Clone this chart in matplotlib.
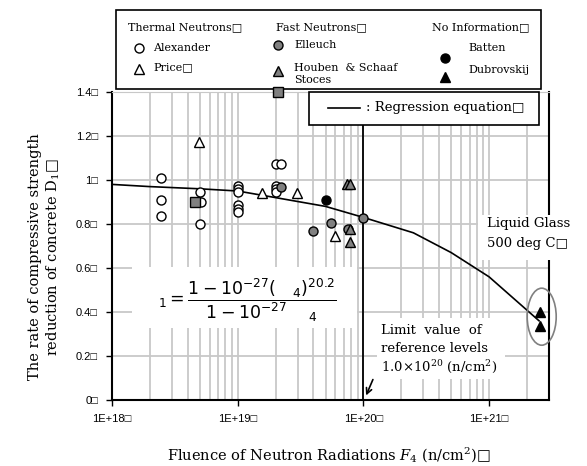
import matplotlib
matplotlib.use('Agg')
import matplotlib.pyplot as plt
from matplotlib.patches import Rectangle, Ellipse
from matplotlib.ticker import LogLocator, NullFormatter

plt.rcParams['font.family'] = ['DejaVu Serif', 'DejaVu Sans']
plt.rcParams['mathtext.fontset'] = 'dejavuserif'

# 資料
alex_x = [2.45e18, 2.45e18, 2.45e18, 5e18, 5.1e18, 5e18,
          1e19, 1e19, 1e19, 1e19, 1e19, 1e19,
          2e19, 2.2e19, 2e19, 2e19, 2e19]
alex_y = [1.01, 0.91, 0.835, 0.945, 0.90, 0.80,
          0.975, 0.96, 0.945, 0.885, 0.87, 0.855,
          1.075, 1.075, 0.975, 0.96, 0.945]
price_x = [4.9e18, 1.57e19, 2.95e19, 6.0e19]
price_y = [1.175, 0.942, 0.942, 0.747]
elleuch_x = [2.2e19, 3.94e19, 5.5e19, 7.55e19, 1e20]
elleuch_y = [0.967, 0.768, 0.803, 0.776, 0.829]
houben_x = [7.4e19, 7.9e19, 7.9e19, 7.9e19]
houben_y = [0.982, 0.982, 0.776, 0.72]
stoces_x = [4.6e18]
stoces_y = [0.90]
batten_x = [5.0e19]
batten_y = [0.909]
dubrov_x = [2.54e21, 2.54e21]
dubrov_y = [0.40, 0.335]

reg_x = [1e18, 2e18, 5e18, 1e19, 2e19, 5e19, 1e20, 2.5e20, 5e20, 1e21, 2.5e21]
reg_y = [0.98, 0.97, 0.96, 0.95, 0.92, 0.88, 0.83, 0.76, 0.67, 0.56, 0.36]

xticks = [1e18, 1e19, 1e20, 1e21]
xticklabels = ['1E+18□', '1E+19□', '1E+20□', '1E+21□']
yticks = [0, 0.2, 0.4, 0.6, 0.8, 1.0, 1.2, 1.4]
yticklabels = ['0□', '0.2□', '0.4□', '0.6□', '0.8□', '1□', '1.2□', '1.4□']

GRAY = '#808080'
GRID = '#c8c8c8'

fig = plt.figure(figsize=(5.87, 4.66), dpi=100)
ax = fig.add_axes([112 / 587, 66 / 466, 437 / 587, 308 / 466])
ax.set_xscale('log')
ax.set_xlim(1e18, 3e21)
ax.set_ylim(0, 1.4)

ax.set_xticks(xticks)
ax.set_xticklabels(xticklabels, family=['Liberation Sans', 'DejaVu Sans'], fontsize=8)
ax.set_yticks(yticks)
ax.set_yticklabels(yticklabels, family=['Liberation Sans', 'DejaVu Sans'], fontsize=8)
ax.xaxis.set_minor_locator(LogLocator(base=10, subs=range(2, 10)))
ax.xaxis.set_minor_formatter(NullFormatter())
ax.tick_params(which='minor', length=0)
ax.tick_params(which='major', length=4, width=1, direction='out', pad=6)

ax.set_axisbelow(True)
ax.grid(which='both', axis='x', color=GRID, lw=1.3)
ax.grid(which='major', axis='y', color=GRID, lw=1.3)
for s in ['left', 'bottom', 'right']:
    ax.spines[s].set_linewidth(1.5)
ax.spines['top'].set_color(GRID)

ax.axvline(1e20, color='black', lw=1.3)
ax.plot(reg_x, reg_y, color='black', lw=1.2)

mk = dict(ms=6.5, mew=1.0, ls='none', mec='black')
ax.plot(alex_x, alex_y, 'o', mfc='white', **mk)
ax.plot(price_x, price_y, '^', mfc='white', **mk)
ax.plot(elleuch_x, elleuch_y, 'o', mfc=GRAY, **mk)
ax.plot(houben_x, houben_y, '^', mfc=GRAY, **mk)
ax.plot(stoces_x, stoces_y, 's', mfc=GRAY, **mk)
ax.plot(batten_x, batten_y, 'o', mfc='black', **mk)
ax.plot(dubrov_x, dubrov_y, '^', mfc='black', **mk)

# 疊加層 (像素座標)
ov = fig.add_axes([0, 0, 1, 1])
ov.set_xlim(0, 587)
ov.set_ylim(466, 0)
ov.axis('off')

# 公式
ov.add_patch(Rectangle((132, 267), 225, 61, fc='white', ec='none'))
ov.text(158, 300, r'${}_1 = \dfrac{1-10^{-27}(\quad{}_4)^{20.2}}{1-10^{-27}\quad\;{}_4}$',
        fontsize=12.5, math_fontfamily='dejavusans', va='center', ha='left')

# Liquid Glass
ov.add_patch(Rectangle((478, 215), 106, 45, fc='white', ec='none'))
ov.text(487, 223, 'Liquid Glass', fontsize=9.5, va='center')
ov.text(487, 243, '500 deg C□', fontsize=9.5, va='center')
ov.add_patch(Ellipse((541.7, 316.7), 29, 57, fill=False, ec=GRAY, lw=1.2))

# Limit value
ov.add_patch(Rectangle((377, 318), 128, 61, fc='white', ec='none'))
ov.text(381, 330, 'Limit  value  of', fontsize=9.5, va='center')
ov.text(381, 349, 'reference levels', fontsize=9.5, va='center')
ov.text(381, 367, r'1.0×10$^{20}$ (n/cm$^{2}$)', fontsize=9.5, va='center')
ov.annotate('', xy=(365, 398), xytext=(374, 377),
            arrowprops=dict(arrowstyle='->', lw=1.2, color='black'))

# 迴歸線圖例
ov.add_patch(Rectangle((309, 92), 230, 33, fc='white', ec='black', lw=1.2))
ov.plot([328, 360], [108, 108], color='black', lw=1.2)
ov.text(366, 108, ': Regression equation□', fontsize=9.5, va='center')

# 上方圖例
ov.add_patch(Rectangle((116, 10), 425, 79, fc='white', ec='black', lw=1.2))
lfs = 8
ov.text(128, 27, 'Thermal Neutrons□', fontsize=lfs, va='center')
ov.text(276, 27, 'Fast Neutrons□', fontsize=lfs, va='center')
ov.text(432, 27, 'No Information□', fontsize=lfs, va='center')
lmk = dict(ms=6.5, mew=1.0, mec='black', ls='none')
ov.plot([139], [48], 'o', mfc='white', **lmk)
ov.text(153, 48, 'Alexander', fontsize=lfs, va='center')
ov.plot([139], [69], '^', mfc='white', **lmk)
ov.text(153, 67, 'Price□', fontsize=lfs, va='center')
ov.plot([278], [45], 'o', mfc=GRAY, **lmk)
ov.text(294, 45, 'Elleuch', fontsize=lfs, va='center')
ov.plot([278], [71], '^', mfc=GRAY, **lmk)
ov.text(294, 68, 'Houben  & Schaaf', fontsize=lfs, va='center')
ov.plot([278], [92], 's', mfc=GRAY, **lmk)
ov.text(294, 80, 'Stoces', fontsize=lfs, va='center')
ov.plot([445], [58], 'o', mfc='black', **lmk)
ov.text(468, 48, 'Batten', fontsize=lfs, va='center')
ov.plot([445], [77], '^', mfc='black', **lmk)
ov.text(468, 70, 'Dubrovskij', fontsize=lfs, va='center')

# 軸標籤
ov.text(45, 257, 'The rate of compressive strength\nreduction of concrete D$_1$□',
        fontsize=10.5, rotation=90, ha='center', va='center', linespacing=1.2)
ov.text(329, 455, 'Fluence of Neutron Radiations $F_4$ (n/cm$^2$)□',
        fontsize=10.5, ha='center', va='center')

fig.savefig('out.png', dpi=100)
